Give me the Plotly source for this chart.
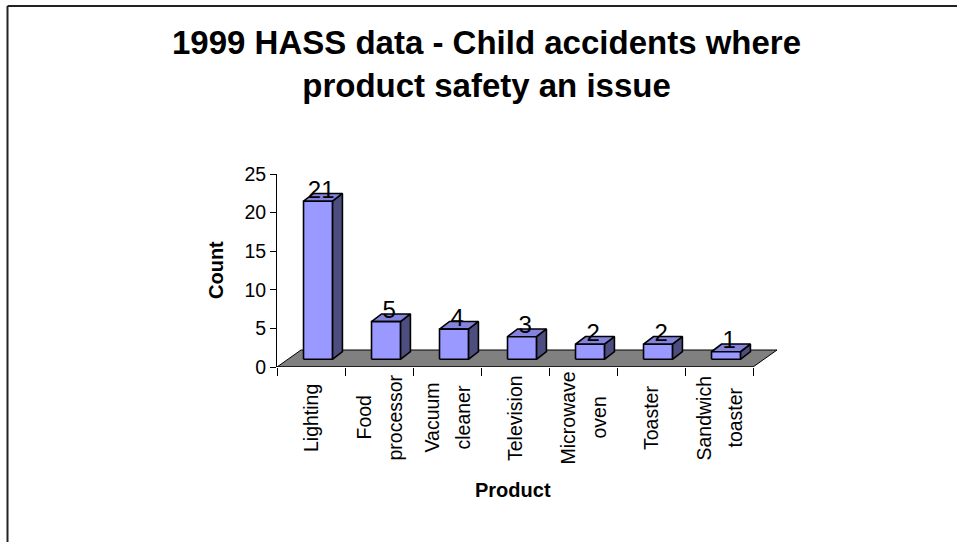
import plotly.graph_objects as go

# ---------------- data ----------------
categories = ["Lighting", "Food processor", "Vacuum cleaner", "Television",
              "Microwave oven", "Toaster", "Sandwich toaster"]
counts = [21, 5, 4, 3, 2, 2, 1]
y_ticks = [0, 5, 10, 15, 20, 25]
title_text = "1999 HASS data - Child accidents where<br>product safety an issue"
x_title = "Product"
y_title = "Count"

# ---------------- layout geometry (pixels) ----------------
W, H = 957, 542
PL, PR, PT, PB = 277, 790, 174, 367      # plot area edges in px
CAT_PX = 68.0                            # px per category
n = len(categories)
x_range = [-0.5, -0.5 + (PR - PL) / CAT_PX]
y_range = [0, 25]
YPX = (PB - PT) / (y_range[1] - y_range[0])

# pseudo-3D styling parameters
FDX, FDY = 24 / CAT_PX, 17 / YPX         # floor depth offset
DX, DY = 10 / CAT_PX, 1.0                # bar depth offset
LIFT, SCALE = 1.0, 0.975                 # bar sits mid-floor
FL, FR = -0.11, 0.315                    # front face extents rel. to category centre

FONT = "Liberation Sans, Arial, Helvetica, sans-serif"
FRONT_C, TOP_C, SIDE_C = "#9999FF", "#8383DD", "#4D4D80"


def px_to_paper_x(px):
    return (px - PL) / (PR - PL)


def px_to_paper_y(py):
    return (PB - py) / (PB - PT)


fig = go.Figure()

# floor
fig.add_trace(go.Scatter(
    x=[-0.5, n - 0.5, n - 0.5 + FDX, -0.5 + FDX, -0.5],
    y=[0, 0, FDY, FDY, 0],
    mode="lines", fill="toself", fillcolor="#808080",
    line=dict(color="black", width=1), hoverinfo="skip", showlegend=False))

# bars
for i, v in enumerate(counts):
    xl, xr = i + FL, i + FR
    yb, yt = LIFT, LIFT + v * SCALE
    faces = [
        ([xr, xr + DX, xr + DX, xr, xr], [yb, yb + DY, yt + DY, yt, yb], SIDE_C),
        ([xl, xr, xr + DX, xl + DX, xl], [yt, yt, yt + DY, yt + DY, yt], TOP_C),
        ([xl, xr, xr, xl, xl], [yb, yb, yt, yt, yb], FRONT_C),
    ]
    for fx, fy, col in faces:
        fig.add_trace(go.Scatter(
            x=fx, y=fy, mode="lines", fill="toself", fillcolor=col,
            line=dict(color="black", width=1.6), hoverinfo="skip",
            showlegend=False))

# value labels
fig.add_trace(go.Scatter(
    x=[i + 0.15 for i in range(n)],
    y=[LIFT + v * SCALE + DY + 0.2 for v in counts],
    mode="text", text=[str(v) for v in counts],
    textposition="middle center",
    textfont=dict(family=FONT, size=24, color="black"),
    cliponaxis=False, hoverinfo="skip", showlegend=False))

# x axis baseline (only across the categories)
fig.add_shape(type="line", xref="x", yref="y", x0=-0.5, x1=n - 0.5, y0=0, y1=0,
              line=dict(color="black", width=1))

annotations = []
# category labels (rotated, one annotation per line)
LINE_GAP = 31
for i, c in enumerate(categories):
    parts = c.split(" ")
    k = len(parts)
    for j, p in enumerate(parts):
        annotations.append(dict(
            x=i, xref="x", y=px_to_paper_y(418), yref="paper",
            text=p, textangle=-90, showarrow=False,
            xanchor="center", yanchor="middle",
            xshift=(j - (k - 1) / 2) * LINE_GAP,
            font=dict(family=FONT, size=19.5, color="black")))

# axis titles
annotations.append(dict(
    x=px_to_paper_x(513), xref="paper", y=px_to_paper_y(490), yref="paper",
    text="<b>%s</b>" % x_title, showarrow=False, xanchor="center", yanchor="middle",
    font=dict(family=FONT, size=20, color="black")))
annotations.append(dict(
    x=px_to_paper_x(216), xref="paper", y=px_to_paper_y(270), yref="paper",
    text="<b>%s</b>" % y_title, textangle=-90, showarrow=False,
    xanchor="center", yanchor="middle",
    font=dict(family=FONT, size=20, color="black")))
# chart title
annotations.append(dict(
    x=px_to_paper_x(486), xref="paper", y=px_to_paper_y(64), yref="paper",
    text="<b>%s</b>" % title_text, showarrow=False, xanchor="center", yanchor="middle",
    font=dict(family=FONT, size=33, color="black")))

# chart border (top and left edges visible)
bx, by = px_to_paper_x(7.5), px_to_paper_y(6)
fig.add_shape(type="line", xref="paper", yref="paper", x0=bx, x1=px_to_paper_x(970),
              y0=by, y1=by, line=dict(color="#222222", width=2))
fig.add_shape(type="line", xref="paper", yref="paper", x0=bx, x1=bx,
              y0=by, y1=px_to_paper_y(560), line=dict(color="#222222", width=2))

fig.update_layout(
    width=W, height=H,
    margin=dict(l=PL, r=W - PR, t=PT, b=H - PB, pad=0),
    paper_bgcolor="white", plot_bgcolor="rgba(0,0,0,0)",
    annotations=annotations,
    showlegend=False,
    xaxis=dict(range=x_range, tickvals=[k - 0.5 for k in range(n + 1)],
               ticktext=[""] * (n + 1), ticks="outside", ticklen=8,
               tickcolor="black", tickwidth=1, showgrid=False, zeroline=False,
               showline=False, fixedrange=True),
    yaxis=dict(range=y_range, tickvals=y_ticks, ticks="outside", ticklen=6,
               tickcolor="black", tickwidth=1, showgrid=False, zeroline=False,
               showline=True, linecolor="black", linewidth=1,
               tickfont=dict(family=FONT, size=19.5, color="black"),
               fixedrange=True),
)

fig.write_html("out.html",
               config={"displayModeBar": False, "staticPlot": True},
               post_script="document.body.style.margin='0';"
                           "document.body.style.overflow='hidden';")
